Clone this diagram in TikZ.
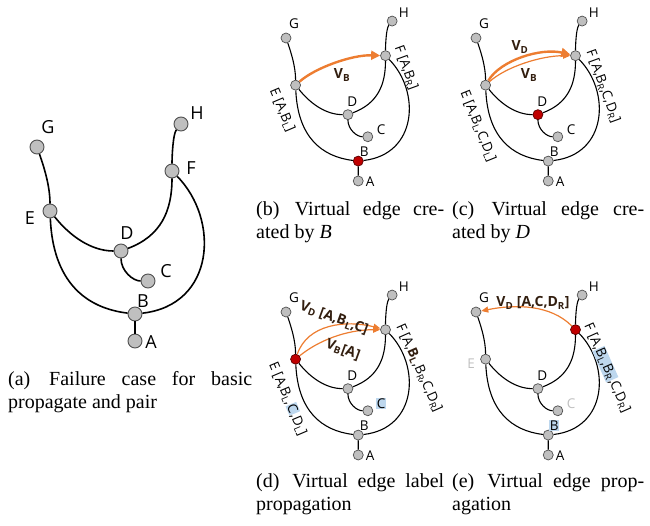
\documentclass[tikz,border=0pt]{standalone}
\usepackage{fontspec}
\setmainfont{Liberation Serif}
\newfontfamily\lblfont{Open Sans}
\usetikzlibrary{arrows.meta}
\definecolor{vgray}{RGB}{191,191,191}
\definecolor{vout}{RGB}{80,80,80}
\definecolor{vred}{RGB}{192,0,0}
\definecolor{vredout}{RGB}{90,0,0}
\definecolor{orng}{RGB}{237,125,49}
\definecolor{hl}{RGB}{189,215,238}
\definecolor{lbrown}{RGB}{50,30,15}
\definecolor{fade}{RGB}{191,191,191}
\setlength{\fboxsep}{0.8pt}
\tikzset{
  vtx/.style={circle, draw=vout, fill=vgray, inner sep=0pt, minimum size=10pt, line width=0.7pt},
  redv/.style={fill=vred, draw=vredout},
  gedge/.style={line width=1.1pt, black},
  lbl/.style={inner sep=0.5pt, font=\lblfont\fontsize{13.5}{13.5}\selectfont},
  stG/.style={}, stH/.style={}, stF/.style={}, stE/.style={},
  stD/.style={}, stC/.style={}, stB/.style={}, stA/.style={},
  lG/.style={}, lH/.style={}, lD/.style={}, lC/.style={}, lB/.style={}, lA/.style={},
  rlbl/.style={inner sep=1pt, font=\lblfont\fontsize{13.5}{14}\selectfont},
  vlbl/.style={inner sep=1pt, text=lbrown, font=\lblfont\bfseries\fontsize{14}{14}\selectfont},
  vthick/.style={orng, line width=2.4pt, -{Triangle[length=9pt,width=9pt]}},
  vthin/.style={orng, line width=1.2pt, -{Triangle[length=7pt,width=6pt]}},
  captxt/.style={inner sep=0pt, anchor=base west, font=\fontsize{20}{23.5}\selectfont},
}
\newcommand\drawgraph[5]{%
\begin{scope}[shift={(#2,#3)}, scale=#4, #5]
\node[vtx,stG] (#1G) at (0,0) {};
\node[vtx,stH] (#1H) at (144,-23) {};
\node[vtx,stF] (#1F) at (135,24) {};
\node[vtx,stE] (#1E) at (13,64) {};
\node[vtx,stD] (#1D) at (84,104) {};
\node[vtx,stC] (#1C) at (111,134) {};
\node[vtx,stB] (#1B) at (98,167) {};
\node[vtx,stA] (#1A) at (98,194) {};
\draw[gedge] (#1G) .. controls +(7,20) and +(0,-25) .. (#1E);
\draw[gedge] (#1E) .. controls +(20,25) and +(-30,0) .. (#1D);
\draw[gedge] (#1D) .. controls +(40,-15) and +(0,40) .. (#1F);
\draw[gedge] (#1F) .. controls +(0,-15) and +(-8,10) .. (#1H);
\draw[gedge] (#1D) .. controls +(0,20) and +(-15,0) .. (#1C);
\draw[gedge] (#1E) .. controls +(3,70) and +(-50,-6) .. (#1B);
\draw[gedge] (#1F) .. controls +(48,49) and +(80,-9) .. (#1B);
\draw[gedge] (#1B) -- (#1A);
\node[lbl,lG] (#1lG) at (11,-20) {G};
\node[lbl,lH] (#1lH) at (160,-34) {H};
\node[lbl,lD] (#1lD) at (90,86) {D};
\node[lbl,lC] (#1lC) at (129,124) {C};
\node[lbl,lB] (#1lB) at (106,154) {B};
\node[lbl,lA] (#1lA) at (114,195) {A};
\end{scope}}
\begin{document}
\begin{tikzpicture}[x=1pt,y=-1pt]
\useasboundingbox (0,0) rectangle (650,525);
% (a)
\drawgraph{a}{37}{147}{1}{vtx/.append style={minimum size=14pt, line width=0.9pt},
  gedge/.append style={line width=1.6pt},
  lbl/.append style={font=\lblfont\fontsize{18}{18}\selectfont}}
\node[lbl, font=\lblfont\fontsize{18}{18}\selectfont] (alE) at (30,218) {E};
\node[lbl, font=\lblfont\fontsize{18}{18}\selectfont] (alF) at (191,168) {F};
\node[captxt] (capa) at (8,385) {\parbox[t]{244pt}{\makebox[244pt][s]{(a)\hspace{3pt} Failure case for basic}\\propagate and pair}};
% (b)
\drawgraph{b}{286}{38}{0.737}{stB/.style={redv}}
\node[rlbl, rotate=-67] (blE) at (282,110) {E [A,B\textsubscript{L}]};
\node[rlbl, rotate=-70] (blF) at (406,68) {F [A,B\textsubscript{R}]};
\draw[vthick] (bE) .. controls +(19,-17) and +(-34,-1) .. (bF);
\node[vlbl] (bVB) at (342,75) {V\textsubscript{B}};
\node[captxt] (capb) at (256,215) {\parbox[t]{188pt}{\makebox[188pt][s]{(b)\hspace{3pt} Virtual edge cre-}\\ated by \textit{B}}};
% (c)
\drawgraph{c}{476}{38}{0.737}{stD/.style={redv}}
\node[rlbl, rotate=-68] (clE) at (478,126) {E [A,B\textsubscript{L},C,D\textsubscript{L}]};
\node[rlbl, rotate=-70] (clF) at (603,86) {F [A,B\textsubscript{R},C,D\textsubscript{R}]};
\draw[vthick] (cE) .. controls +(15,-25) and +(-35,-8) .. (cF);
\draw[vthin] (cE) .. controls +(20,-18) and +(-35,0) .. (cF);
\node[vlbl] (cVD) at (520,47) {V\textsubscript{D}};
\node[vlbl] (cVB) at (529,75) {V\textsubscript{B}};
\node[captxt] (capc) at (452,215) {\parbox[t]{192pt}{\makebox[192pt][s]{(c)\hspace{3pt} Virtual edge cre-}\\ated by \textit{D}}};
% (d)
\drawgraph{d}{286}{312}{0.737}{stE/.style={redv}, lC/.style={fill=hl}}
\node[rlbl, rotate=-67] (dlE) at (288,399) {E [A,B\textsubscript{L},\colorbox{hl}{C},D\textsubscript{L}]};
\node[rlbl, rotate=-66] (dlF) at (419,368) {F [A,\textbf{\color{lbrown}B\textsubscript{L}},B\textsubscript{R},C,D\textsubscript{R}]};
\draw[vthin] (dE) .. controls +(12,-35) and +(-40,-10) .. (dF);
\draw[vthin] (dE) .. controls +(22,-18) and +(-40,0) .. (dF);
\node[vlbl, rotate=-20] (dVD) at (334,318) {V\textsubscript{D} [A,B\textsubscript{L},C]};
\node[vlbl, rotate=-20] (dVB) at (343,350) {V\textsubscript{B}[A]};
\node[captxt] (capd) at (256,487) {\parbox[t]{188pt}{\makebox[188pt][s]{(d)\hspace{3pt} Virtual edge label}\\propagation}};
% (e)
\drawgraph{e}{476}{312}{0.737}{stF/.style={redv}, lC/.style={text=fade}, lB/.style={fill=hl}}
\node[rlbl, text=fade] (elE) at (471,364) {E};
\node[rlbl, rotate=-66] (elF) at (607,368) {F [A,\colorbox{hl}{B\textsubscript{L},B\textsubscript{R}},C,D\textsubscript{R}]};
\draw[vthin] (eF) .. controls +(-25,-25) and +(40,-8) .. (eG);
\node[vlbl] (eVD) at (533,303) {V\textsubscript{D} [A,C,D\textsubscript{R}]};
\node[captxt] (cape) at (452,487) {\parbox[t]{192pt}{\makebox[192pt][s]{(e)\hspace{3pt} Virtual edge prop-}\\agation}};
\end{tikzpicture}
\end{document}
